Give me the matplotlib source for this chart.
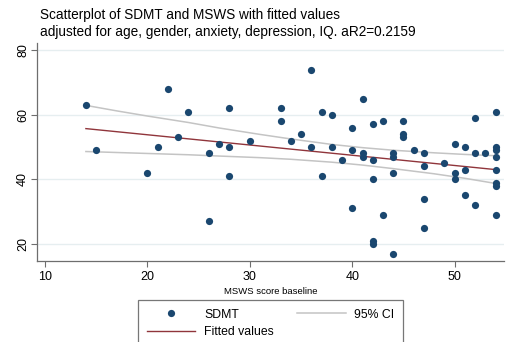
import matplotlib
matplotlib.use("Agg")
import matplotlib.pyplot as plt
import numpy as np

plt.rcParams["font.family"] = ["Liberation Sans", "DejaVu Sans"]

# scatter data: MSWS baseline (x) vs SDMT (y)
msws = [14, 15, 20, 21, 22, 23, 24, 26, 26, 27, 28, 28, 28, 30,
        33, 33, 34, 35, 36, 36, 37, 37, 38, 38, 39, 40, 40, 40,
        41, 41, 41, 42, 42, 42, 42, 42, 43, 43, 44, 44, 44, 44,
        45, 45, 45, 46, 47, 47, 47, 47, 49, 50, 50, 50, 51, 51, 51,
        52, 52, 52, 53, 54, 54, 54, 54, 54, 54, 54, 54]
sdmt = [63, 49, 42, 50, 68, 53, 61, 48, 27, 51, 62, 50, 41, 52,
        62, 58, 52, 54, 74, 50, 61, 41, 60, 50, 46, 56, 49, 31,
        65, 48, 47, 57, 46, 40, 21, 20, 58, 29, 48, 47, 42, 17,
        58, 54, 53, 49, 48, 44, 34, 25, 45, 51, 42, 40, 50, 43, 35,
        59, 48, 32, 48, 61, 50, 49, 47, 43, 39, 38, 29]

# fitted line and 95% CI band (estimated from the plot)
fit_x = [14, 54]
fit_y = [55.7, 43.0]
ci_x = [14, 17, 20, 24, 27, 31, 34, 38, 41, 44, 48, 51, 54]
ci_hi = [62.9, 61.2, 59.6, 57.6, 55.9, 53.9, 52.5, 50.8, 49.8, 49.0, 48.2, 47.7, 47.3]
ci_lo = [48.6, 48.3, 48.0, 47.6, 47.2, 46.7, 46.2, 45.3, 44.4, 43.3, 41.7, 40.3, 38.7]

navy = "#1a476f"
maroon = "#90353b"
ci_gray = "#c4c4c4"
axis_gray = "#6e6e6e"

fig = plt.figure(figsize=(5.1, 3.42), dpi=100)
ax = fig.add_axes([0.072, 0.238, 0.916, 0.636])

for v in [20, 40, 60, 80]:
    ax.axhline(v, color="#e6eef0", lw=1, zorder=0)

ci_line, = ax.plot(ci_x, ci_hi, color=ci_gray, lw=1.1, zorder=1)
ax.plot(ci_x, ci_lo, color=ci_gray, lw=1.1, zorder=1)
fit_line, = ax.plot(fit_x, fit_y, color=maroon, lw=1.0, zorder=2)
dots, = ax.plot(msws, sdmt, "o", color=navy, ms=5.2, mew=0, zorder=3)

ax.set_xlim(9.2, 54.8)
ax.set_ylim(14.8, 82.2)
ax.set_xticks([10, 20, 30, 40, 50])
ax.set_yticks([20, 40, 60, 80])
for s in ["top", "right"]:
    ax.spines[s].set_visible(False)
for s in ["left", "bottom"]:
    ax.spines[s].set_color(axis_gray)
    ax.spines[s].set_linewidth(0.9)
ax.tick_params(colors=axis_gray, labelcolor="black", labelsize=9,
               length=4, width=0.8)
ax.tick_params(axis="y", pad=1.5)
for lab in ax.get_yticklabels():
    lab.set_rotation(90)
    lab.set_va("center")
ax.set_xlabel("MSWS score baseline", fontsize=6.8, labelpad=3)

fig.text(0.078, 0.955, "Scatterplot of SDMT and MSWS with fitted values",
         fontsize=9.8, va="center")
fig.text(0.078, 0.905,
         "adjusted for age, gender, anxiety, depression, IQ. aR2=0.2159",
         fontsize=9.8, va="center")

leg = fig.legend([dots, fit_line, ci_line], ["SDMT", "Fitted values", "95% CI"],
                 ncol=2, loc="upper left",
                 bbox_to_anchor=(138 / 510, 1 - 300 / 342),
                 fontsize=8.8, frameon=True, fancybox=False,
                 handlelength=4.0, columnspacing=1.9, handletextpad=0.7,
                 borderpad=0.7, labelspacing=0.45, borderaxespad=0)
leg.get_frame().set_edgecolor("#555555")
leg.get_frame().set_linewidth(0.9)

fig.savefig("out.png", dpi=100)
